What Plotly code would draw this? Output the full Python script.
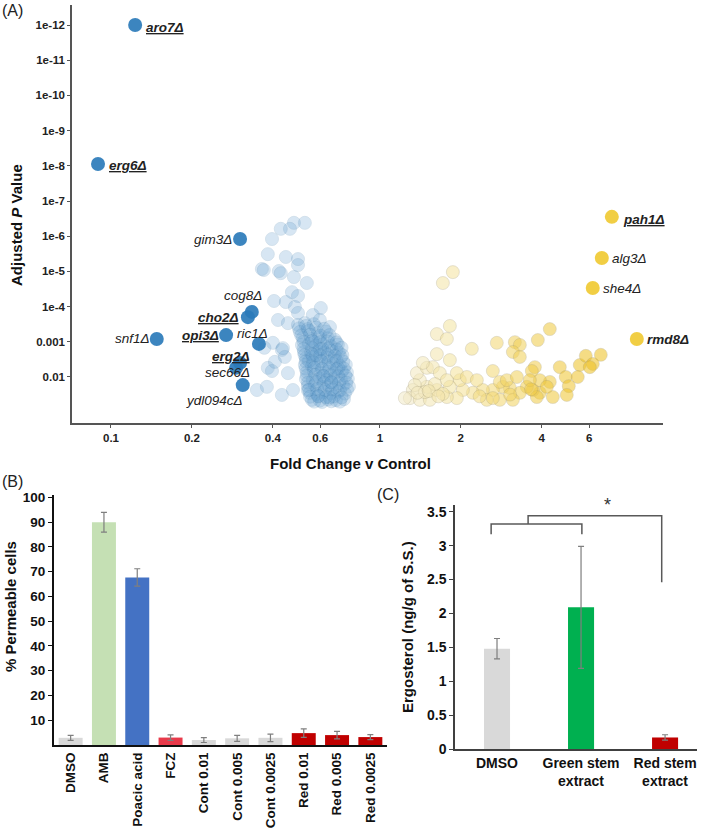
import numpy as np
import plotly.graph_objects as go

FONT = "Liberation Sans, Arial, sans-serif"

# ---------------- (A) screen: fold change vs adjusted P ----------------
# highlighted deletion strains (fold change, -log10 adjusted P)
down_hits = ["aro7Δ", "erg6Δ", "gim3Δ", "cog8Δ", "cho2Δ", "opi3Δ", "ric1Δ",
             "erg2Δ", "sec66Δ", "ydl094cΔ", "snf1Δ"]
down_hits_fc = [0.123, 0.0895, 0.302, 0.334, 0.323, 0.268, 0.355, 0.302, 0.292, 0.309, 0.148]
down_hits_nlp = [12.0, 8.05, 5.92, 3.85, 3.70, 3.19, 2.94, 2.40, 2.26, 1.77, 3.08]

up_hits = ["pah1Δ", "alg3Δ", "she4Δ", "rmd8Δ"]
up_hits_fc = [7.29, 6.69, 6.19, 9.03]
up_hits_nlp = [6.55, 5.38, 4.53, 3.08]

# remaining sensitive strains (light blue cloud)
down_fc = [0.526, 0.479, 0.463, 0.428, 0.397, 0.383, 0.447, 0.496, 0.496, 0.364,
           0.370, 0.421, 0.428, 0.479, 0.535, 0.471, 0.496, 0.404, 0.447, 0.483,
           0.603, 0.496, 0.563, 0.418, 0.455, 0.526, 0.598, 0.652, 0.400, 0.432,
           0.443, 0.383, 0.397, 0.455, 0.436, 0.349, 0.380, 0.432, 0.475, 0.407,
           0.372,
           0.496, 0.531, 0.568,
           0.504, 0.545, 0.588, 0.630,
           0.517, 0.554, 0.593, 0.641, 0.680,
           0.513, 0.545, 0.578, 0.614, 0.657, 0.698,
           0.522, 0.554, 0.588, 0.624, 0.663, 0.704,
           0.531, 0.563, 0.598, 0.635, 0.675, 0.716,
           0.526, 0.559, 0.593, 0.630, 0.669, 0.710, 0.747,
           0.535, 0.568, 0.603, 0.641, 0.680, 0.722, 0.754,
           0.531, 0.563, 0.598, 0.635, 0.675, 0.716, 0.760,
           0.540, 0.573, 0.609, 0.646, 0.686, 0.729, 0.767,
           0.549, 0.583, 0.619, 0.657, 0.698, 0.741,
           0.559, 0.598, 0.641, 0.686, 0.735,
           0.545, 0.578, 0.620, 0.660, 0.700, 0.540, 0.590, 0.650, 0.610, 0.570,
           0.500, 0.540, 0.580, 0.620,
           0.510, 0.550, 0.600, 0.650,
           0.520, 0.560, 0.600, 0.640, 0.690,
           0.520, 0.560, 0.600, 0.645, 0.690, 0.720,
           0.525, 0.560, 0.600, 0.640, 0.680, 0.725,
           0.530, 0.565, 0.605, 0.645, 0.690, 0.730,
           0.530, 0.570, 0.610, 0.650, 0.690, 0.735,
           0.535, 0.575, 0.615, 0.655, 0.700, 0.745,
           0.540, 0.580, 0.620, 0.660, 0.705, 0.750,
           0.545, 0.585, 0.625, 0.665, 0.710, 0.755,
           0.550, 0.590, 0.630, 0.675, 0.720,
           0.570, 0.610, 0.660, 0.710]
down_nlp = [6.38, 6.38, 6.21, 6.21, 5.92, 5.49, 5.41, 5.35, 5.18, 5.07,
            5.04, 5.01, 4.95, 4.84, 4.67, 4.41, 4.30, 4.16, 4.13, 3.99,
            3.96, 3.82, 3.76, 3.62, 3.53, 3.53, 3.62, 3.42, 2.97, 2.77,
            2.57, 2.26, 2.17, 2.11, 2.82, 1.63, 1.72, 1.49, 1.63, 2.43,
            2.83,
            3.48, 3.45, 3.50,
            3.28, 3.31, 3.25, 3.29,
            3.11, 3.08, 3.13, 3.10, 3.06,
            2.91, 2.94, 2.89, 2.93, 2.88, 2.92,
            2.71, 2.68, 2.73, 2.70, 2.74, 2.69,
            2.54, 2.57, 2.52, 2.55, 2.51, 2.56,
            2.34, 2.31, 2.36, 2.33, 2.37, 2.32, 2.35,
            2.14, 2.17, 2.12, 2.15, 2.11, 2.16, 2.13,
            1.94, 1.91, 1.96, 1.93, 1.97, 1.92, 1.95,
            1.74, 1.77, 1.72, 1.75, 1.71, 1.76, 1.73,
            1.55, 1.52, 1.57, 1.54, 1.58, 1.53,
            1.35, 1.33, 1.36, 1.34, 1.37,
            2.45, 2.62, 2.02, 1.85, 2.25, 1.62, 1.45, 1.42, 2.80, 3.00,
            3.38, 3.36, 3.40, 3.37,
            3.18, 3.20, 3.17, 3.19,
            3.00, 3.02, 2.99, 3.01, 2.98,
            2.80, 2.82, 2.79, 2.81, 2.78, 2.83,
            2.62, 2.64, 2.61, 2.63, 2.60, 2.62,
            2.44, 2.42, 2.45, 2.43, 2.46, 2.44,
            2.24, 2.26, 2.23, 2.25, 2.22, 2.24,
            2.04, 2.06, 2.03, 2.05, 2.02, 2.04,
            1.84, 1.86, 1.83, 1.85, 1.82, 1.84,
            1.64, 1.66, 1.63, 1.65, 1.62, 1.64,
            1.44, 1.46, 1.43, 1.45, 1.42,
            1.30, 1.29, 1.31, 1.30]

# remaining resistant strains (yellow cloud)
up_fc = [1.868, 1.715, 1.821, 1.629, 1.775, 2.198, 2.722, 3.177, 3.316, 3.123,
         3.316, 3.868, 4.285, 1.629, 1.821, 2.631, 3.770, 3.674, 4.668, 5.539,
         5.833, 6.632, 6.193, 6.036, 4.914, 5.445, 5.042, 4.285, 4.956, 4.397,
         3.934, 3.706, 3.520, 3.835, 3.316, 3.043, 2.866, 2.631, 2.415, 2.217,
         2.035, 1.983, 1.933, 2.106, 2.294, 2.499, 2.793, 3.123, 2.631, 1.933,
         1.775, 1.629, 1.495, 1.408, 1.373, 1.495, 1.574, 1.671, 1.326, 1.293,
         1.408, 1.534, 1.821, 1.775, 1.445, 2.793, 2.966, 3.232, 3.934, 4.178,
         3.612, 1.349, 1.470, 1.602, 1.715, 1.239, 1.380, 1.520, 1.650, 2.350,
         3.050, 3.650]
up_nlp = [4.98, 4.67, 3.45, 3.22, 3.08, 2.80, 2.97, 2.99, 2.91, 2.71,
          2.57, 3.05, 3.36, 2.65, 2.48, 2.17, 2.28, 2.17, 2.28, 2.34,
          2.60, 2.63, 2.37, 2.28, 2.00, 2.00, 1.74, 1.86, 1.49, 1.43,
          1.55, 1.63, 1.72, 1.43, 1.55, 1.69, 1.72, 1.63, 1.63, 1.55,
          1.63, 1.91, 2.11, 2.00, 1.91, 1.35, 1.35, 1.35, 1.40, 1.40,
          1.43, 1.63, 1.72, 1.91, 2.11, 2.26, 2.28, 2.11, 1.63, 1.40,
          1.35, 1.35, 1.72, 1.91, 2.40, 1.86, 1.91, 2.00, 1.91, 1.72,
          1.91, 1.77, 1.57, 1.80, 1.52, 1.40, 1.55, 1.60, 1.45, 1.45,
          1.50, 1.65]

x_ticks_a = [0.1, 0.2, 0.4, 0.6, 1, 2, 4, 6]
y_ticks_a = [1e-12, 1e-11, 1e-10, 1e-9, 1e-8, 1e-7, 1e-6, 1e-5, 1e-4, 1e-3, 1e-2]
y_ticktext_a = ["1e-12", "1e-11", "1e-10", "1e-9", "1e-8", "1e-7", "1e-6",
                "1e-5", "1e-4", "0.001", "0.01"]

# ---------------- (B) permeability ----------------
perm_labels = ["DMSO", "AMB", "Poacic acid", "FCZ", "Cont 0.01", "Cont 0.005",
               "Cont 0.0025", "Red 0.01", "Red 0.005", "Red 0.0025"]
perm_mean = [2.9, 90.0, 67.7, 3.0, 2.0, 2.7, 2.9, 4.8, 4.0, 3.2]
perm_err = [1.0, 4.0, 3.5, 1.1, 1.0, 1.2, 1.5, 1.7, 1.5, 1.0]
perm_colors = ["#d9d9d9", "#c5e0b4", "#4472c4", "#e8394a", "#d9d9d9", "#d9d9d9",
               "#d9d9d9", "#c00000", "#c00000", "#c00000"]

# ---------------- (C) ergosterol ----------------
erg_labels = ["DMSO", "Green stem<br>extract", "Red stem<br>extract"]
erg_mean = [1.48, 2.09, 0.17]
erg_err = [0.15, 0.90, 0.04]
erg_colors = ["#d9d9d9", "#00b050", "#c00000"]


def P(nlp):
    return [10 ** (-v) for v in nlp]


fig = go.Figure()

fig.add_trace(go.Scatter(
    x=up_fc, y=P(up_nlp), mode="markers", xaxis="x", yaxis="y",
    marker=dict(size=13, color=np.log10(up_fc), cmin=np.log10(1.25), cmax=np.log10(6.0),
                colorscale=[[0, "rgb(242,234,200)"], [0.3, "rgb(245,226,150)"],
                            [0.65, "rgb(241,206,80)"], [1, "rgb(238,192,30)"]],
                opacity=0.55, line=dict(width=0.7, color="rgba(150,140,100,0.6)")),
    showlegend=False, hoverinfo="skip"))

fig.add_trace(go.Scatter(
    x=down_fc, y=P(down_nlp), mode="markers", xaxis="x", yaxis="y",
    marker=dict(size=13, color="rgb(100,160,208)", opacity=0.25,
                line=dict(width=0.8, color="rgb(60,120,170)")),
    showlegend=False, hoverinfo="skip"))

fig.add_trace(go.Scatter(
    x=down_hits_fc, y=P(down_hits_nlp), mode="markers", xaxis="x", yaxis="y",
    marker=dict(size=14, color="#2b7bba", opacity=0.92),
    text=down_hits, hoverinfo="text", showlegend=False))

fig.add_trace(go.Scatter(
    x=up_hits_fc, y=P(up_hits_nlp), mode="markers", xaxis="x", yaxis="y",
    marker=dict(size=14, color="#f0cb3a", opacity=0.95),
    text=up_hits, hoverinfo="text", showlegend=False))

fig.add_trace(go.Bar(
    x=perm_labels, y=perm_mean, xaxis="x2", yaxis="y2", width=0.72,
    marker=dict(color=perm_colors, line=dict(width=0)),
    error_y=dict(type="data", array=perm_err, color="#7f7f7f", thickness=1.2, width=3),
    showlegend=False))

fig.add_trace(go.Bar(
    x=erg_labels, y=erg_mean, xaxis="x3", yaxis="y3", width=0.31,
    marker=dict(color=erg_colors, line=dict(width=0)),
    error_y=dict(type="data", array=erg_err, color="#7f7f7f", thickness=1.2, width=3),
    showlegend=False))

W, H = 709, 836


def px(x):
    return x / W


def py(y):
    return 1 - y / H


tick_a = dict(family=FONT, size=11.5, color="#222", weight="bold")
tick_b = dict(family=FONT, size=13.5, color="#111", weight="bold")
tick_c = dict(family=FONT, size=14, color="#111", weight="bold")

fig.update_layout(
    width=W, height=H, margin=dict(l=0, r=0, t=0, b=0),
    paper_bgcolor="white", plot_bgcolor="white",
    font=dict(family=FONT),
    xaxis=dict(domain=[px(72), px(663)], anchor="y", type="log",
               range=[-1.145, 1.053], tickvals=x_ticks_a,
               ticktext=[str(v) for v in x_ticks_a],
               tickfont=tick_a, ticks="outside", ticklen=3, tickcolor="#555",
               showline=True, linecolor="#555", linewidth=1.5,
               showgrid=False, zeroline=False, automargin=False),
    yaxis=dict(domain=[py(423), py(5)], anchor="x", type="log",
               range=[np.log10(0.203), -12.57], tickvals=y_ticks_a, ticktext=y_ticktext_a,
               tickfont=tick_a, ticks="outside", ticklen=3, tickcolor="#555",
               showline=True, linecolor="#555", linewidth=1.5,
               showgrid=False, zeroline=False, automargin=False),
    xaxis2=dict(domain=[px(54), px(387)], anchor="y2", type="category",
                range=[-0.5, 9.5], tickangle=-90, tickfont=tick_b,
                showline=True, linecolor="#111", linewidth=2,
                showgrid=False, zeroline=False, automargin=False),
    yaxis2=dict(domain=[py(745), py(495)], anchor="x2", range=[0, 101],
                tickvals=list(range(10, 101, 10)), tickfont=tick_b,
                ticks="outside", ticklen=4, tickcolor="#111",
                showline=True, linecolor="#111", linewidth=2,
                showgrid=False, zeroline=False, automargin=False),
    xaxis3=dict(domain=[px(455), px(697)], anchor="y3", type="category",
                range=[-0.5, 2.38], tickfont=tick_c,
                showline=True, linecolor="#404040", linewidth=1.5,
                showgrid=False, zeroline=False, automargin=False),
    yaxis3=dict(domain=[py(749), py(505)], anchor="x3", range=[0, 3.6],
                tickvals=[0, 0.5, 1, 1.5, 2, 2.5, 3, 3.5], tickfont=tick_c,
                ticks="outside", ticklen=4, tickcolor="#404040",
                showline=True, linecolor="#404040", linewidth=1.5,
                showgrid=False, zeroline=False, automargin=False),
)

# significance brackets in panel C
br = dict(color="#595959", width=1.5)
fig.add_shape(type="path", xref="x3", yref="y3",
              path="M -0.07,3.17 L -0.07,3.32 L 1.01,3.32 L 1.01,3.17", line=br)
fig.add_shape(type="path", xref="x3", yref="y3",
              path="M 0.37,3.32 L 0.37,3.44 L 1.96,3.44 L 1.96,2.46", line=br)

ann = []
# gene labels in panel A: (xanchor, xshift, yshift, style)
label_pos = {
    "aro7Δ": ("left", 9, -2, "bu"), "erg6Δ": ("left", 9, -1, "bu"),
    "gim3Δ": ("right", -6, 0, ""), "cog8Δ": ("right", 12, 16, ""),
    "cho2Δ": ("right", -7, 0, "bu"), "opi3Δ": ("right", -5, 0, "bu"),
    "ric1Δ": ("left", -24, 10, ""), "erg2Δ": ("right", 12, 6, "bu"),
    "sec66Δ": ("right", 16, -5, ""), "ydl094cΔ": ("right", 2, -15, ""),
    "snf1Δ": ("right", -5, 0, ""),
    "pah1Δ": ("left", 9, -3, "bu"), "alg3Δ": ("left", 8, 0, ""),
    "she4Δ": ("left", 8, -1, ""), "rmd8Δ": ("left", 8, -1, "b"),
}
for names, fcs, nlps in [(down_hits, down_hits_fc, down_hits_nlp),
                         (up_hits, up_hits_fc, up_hits_nlp)]:
    for name, f, n in zip(names, fcs, nlps):
        xa, xs, ys, st = label_pos[name]
        t = name
        if "u" in st:
            t = "<u>" + t + "</u>"
        if "b" in st:
            t = "<b>" + t + "</b>"
        ann.append(dict(x=np.log10(f), y=-n, xref="x", yref="y", text="<i>" + t + "</i>",
                        showarrow=False, xanchor=xa, yanchor="middle", xshift=xs, yshift=ys,
                        font=dict(family=FONT, size=13.5, color="#222")))

title_font = dict(family=FONT, size=15, color="#111")
ann += [
    dict(x=px(0), y=py(10), text="(A)", xanchor="left"),
    dict(x=px(0), y=py(482), text="(B)", xanchor="left"),
    dict(x=px(375), y=py(495), text="(C)", xanchor="left"),
]
for a in ann[-3:]:
    a.update(xref="paper", yref="paper", showarrow=False, yanchor="middle",
             font=dict(family=FONT, size=16, color="#222"))
ann += [
    dict(x=px(16), y=py(225), text="<b>Adjusted <i>P</i> Value</b>", textangle=-90),
    dict(x=px(350), y=py(463), text="<b>Fold Change v Control</b>"),
    dict(x=px(10), y=py(607), text="<b>% Permeable cells</b>", textangle=-90),
    dict(x=px(407), y=py(627), text="<b>Ergosterol (ng/g of S.S.)</b>", textangle=-90),
]
for a in ann[-4:]:
    a.update(xref="paper", yref="paper", showarrow=False, xanchor="center",
             yanchor="middle", font=title_font)
ann.append(dict(x=px(613), y=py(505), xref="paper", yref="paper", text="*",
                showarrow=False, font=dict(family=FONT, size=18, color="#333")))

fig.update_layout(annotations=ann)

# the page body has a default 8px margin; drop it so the figure sits at the corner
fig.write_html("out.html", config={"displayModeBar": False},
               post_script="document.body.style.margin='0';")
